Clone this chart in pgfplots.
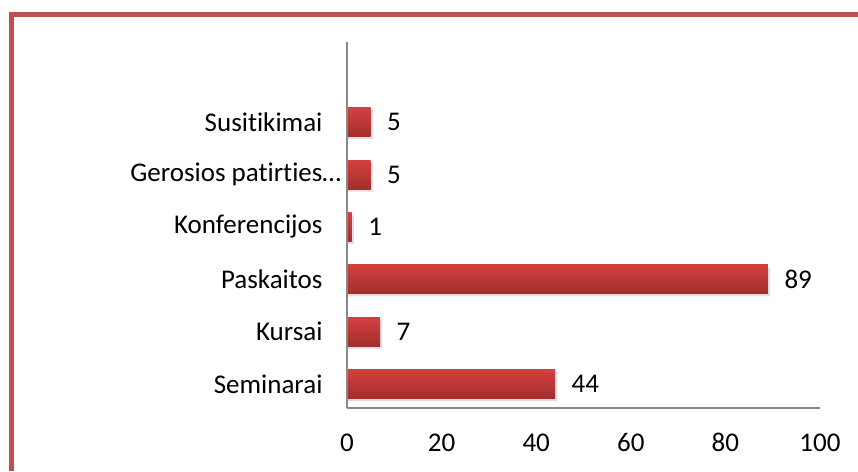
\documentclass[border=0pt]{standalone}
\usepackage{pgfplots}
\pgfplotsset{compat=1.18}
\usepackage{fontspec}
\setmainfont{Carlito}[Ligatures=NoCommon]
\definecolor{frame}{HTML}{C0504D}
\definecolor{bartop}{HTML}{D4403F}
\definecolor{barbot}{HTML}{A22E2D}
\definecolor{axgray}{HTML}{898989}
\begin{document}
\begin{tikzpicture}[x=1pt,y=1pt]
\useasboundingbox (0,0) rectangle (858,471);
\fill[white] (0,0) rectangle (858,471);
\draw[frame, line width=5pt] (11.5,0) -- (11.5,456.5) -- (858,456.5);
\begin{axis}[
  at={(347pt,63pt)}, anchor=south west,
  scale only axis, width=473pt, height=366pt,
  xmin=0, xmax=100, ymin=-0.458, ymax=6.53,
  xtick={0,20,40,60,80,100},
  ytick={0,1,2,3,4,5},
  yticklabels={Seminarai,Kursai,Paskaitos,Konferencijos,Gerosios patirties\rlap{…},Susitikimai},
  axis x line*=bottom, axis y line*=left,
  axis line style={axgray, line width=1.3pt, -},
  major tick length=0pt,
  /pgf/number format/assume math mode=true,
  tick label style={font=\fontsize{27}{30}\selectfont, text=black},
  xticklabel style={yshift=-22pt},
  yticklabel style={xshift=-21pt},
  xbar, bar width=29pt,
  every node near coord/.append style={font=\fontsize{27}{30}\selectfont, xshift=13pt, text=black},
  clip=false,
  shadowbar/.style={draw=none, fill=black!13, bar shift=-2.5pt, forget plot},
  redbar/.style={draw=none, top color=bartop, bottom color=barbot, bar shift=0pt, nodes near coords},
]
\addplot[shadowbar] coordinates {(44.45,0) (7.45,1) (89.45,2) (1.45,3) (5.45,4) (5.45,5)};
\addplot[redbar] coordinates {(44,0)};
\addplot[redbar] coordinates {(7,1)};
\addplot[redbar] coordinates {(89,2)};
\addplot[redbar] coordinates {(1,3)};
\addplot[redbar] coordinates {(5,4)};
\addplot[redbar] coordinates {(5,5)};
\draw[axgray, line width=1.3pt] (axis cs:0,-0.458) -- (axis cs:0,6.53);
\end{axis}
\end{tikzpicture}
\end{document}
